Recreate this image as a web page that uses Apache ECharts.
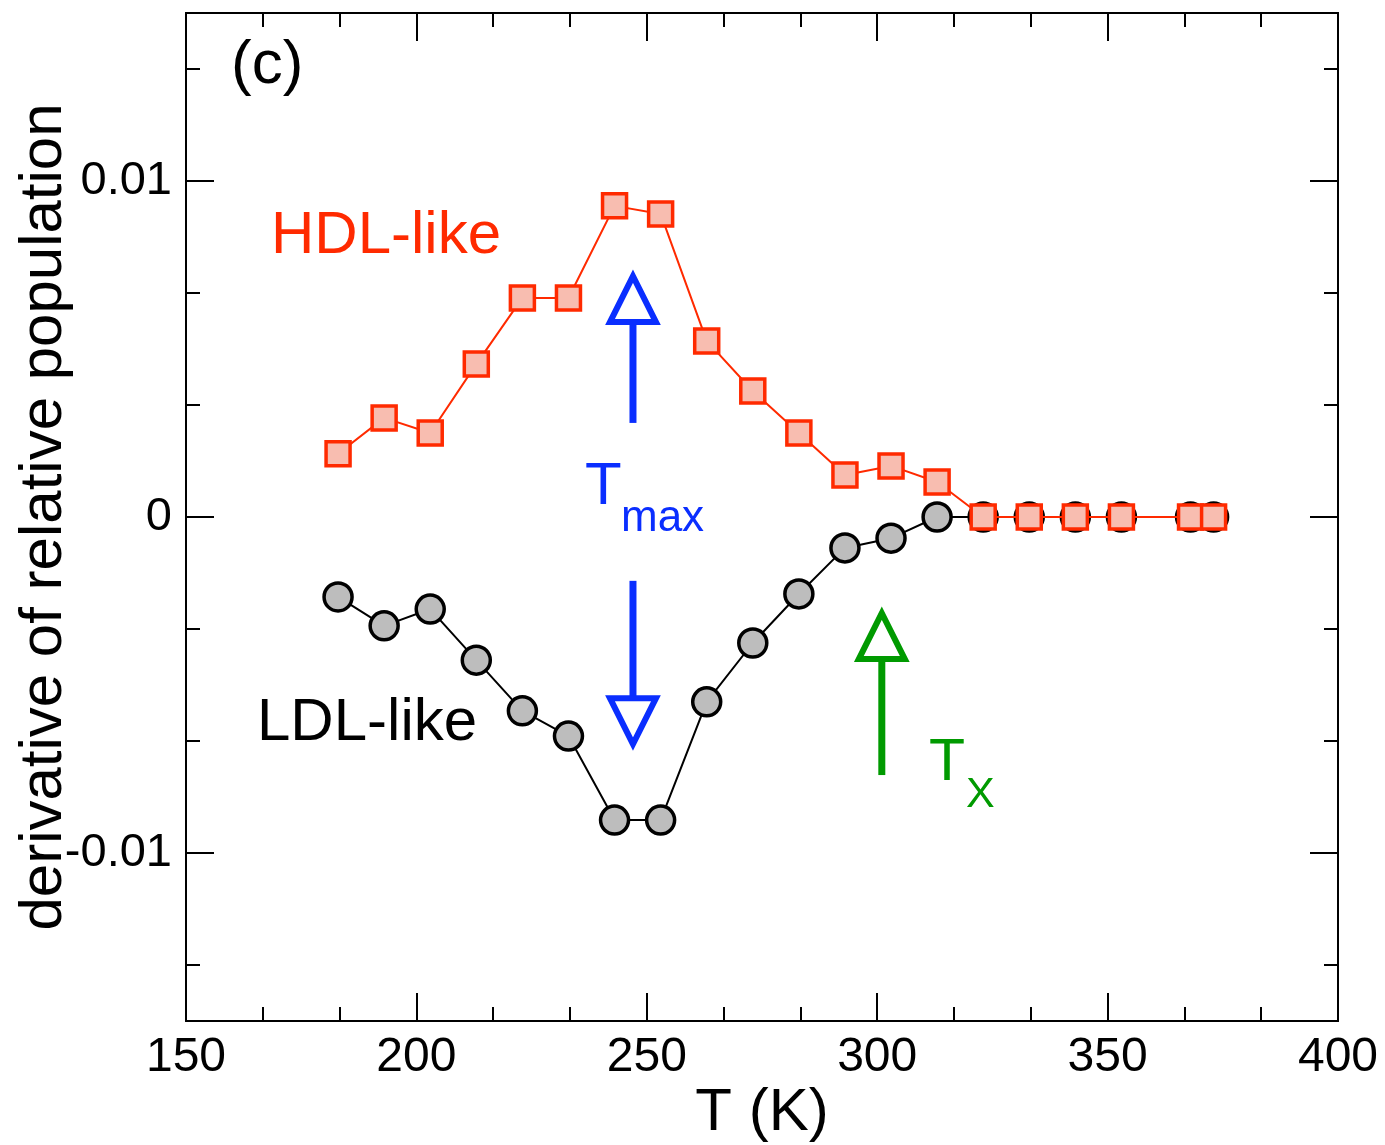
<!DOCTYPE html>
<html>
<head>
<meta charset="utf-8">
<script src="https://cdn.jsdelivr.net/npm/echarts@6/dist/echarts.min.js"></script>
<style>
html,body{margin:0;padding:0;background:#fff;}
#c{width:1385px;height:1145px;}
</style>
</head>
<body>
<div id="c"></div>
<script>
// ---- data ----
const tHDL = [183,193,203,213,223,233,243,253,263,273,283,293,303,313,323,333,343,353,368,373];
const vHDL = [0.00188,0.00295,0.0025,0.00455,0.00652,0.00652,0.00926,0.00902,0.00524,0.00375,0.0025,0.00125,0.00152,0.00104,0,0,0,0,0,0];
const tLDL = [183,193,203,213,223,233,243,253,263,273,283,293,303,313,323,333,343,353,368,373];
const vLDL = [-0.00238,-0.00324,-0.00274,-0.00426,-0.00577,-0.00652,-0.00902,-0.00902,-0.0055,-0.00375,-0.00229,-0.00092,-0.00063,0,0,0,0,0,0,0];
const yMajorTicks = [-0.01, 0, 0.01];
const yMinorTicks = [-0.013333, -0.006667, -0.003333, 0.003333, 0.006667, 0.013333];
// arrows: [x, yFrom, yTip, colorIndex]
const arrows = [
  [247, 0.00280, 0.00717, 0],
  [247, -0.00190, -0.00676, 0],
  [301, -0.00768, -0.00286, 1]
];
const arrowColors = ['#0a2eff', '#009a00'];

const FONT = '"Liberation Sans", Arial, Helvetica, sans-serif';

const chart = echarts.init(document.getElementById('c'), null, { renderer: 'canvas' });

const xBase = {
  type: 'value', min: 150, max: 400, interval: 50,
  axisLine: { show: true, onZero: false, lineStyle: { color: '#000', width: 2 } },
  axisTick: { show: true, inside: true, length: 28, lineStyle: { color: '#000', width: 2 } },
  minorTick: { show: true, splitNumber: 3, length: 14, lineStyle: { color: '#000', width: 2 } },
  splitLine: { show: false }, minorSplitLine: { show: false }
};
const yBase = {
  type: 'value', min: -0.015, max: 0.015,
  axisLine: { show: true, onZero: false, lineStyle: { color: '#000', width: 2 } },
  splitLine: { show: false }
};

const option = {
  animation: false,
  backgroundColor: '#fff',
  grid: { left: 186, right: 47, top: 13, bottom: 124, containLabel: false, outerBoundsMode: 'none' },
  xAxis: [
    Object.assign({}, xBase, {
      position: 'bottom',
      name: 'T (K)', nameLocation: 'middle', nameGap: 62, nameMoveOverlap: false,
      nameTextStyle: { fontFamily: FONT, fontSize: 60, color: '#000' },
      axisLabel: { show: true, margin: 13, fontFamily: FONT, fontSize: 48, color: '#000' }
    }),
    Object.assign({}, xBase, { position: 'top', axisLabel: { show: false } })
  ],
  yAxis: [
    Object.assign({}, yBase, {
      position: 'left',
      name: 'derivative of relative population', nameLocation: 'middle', nameGap: 112, nameMoveOverlap: false,
      nameTextStyle: { fontFamily: FONT, fontSize: 60, color: '#000' },
      axisTick: { show: true, inside: true, length: 28, customValues: yMajorTicks, lineStyle: { color: '#000', width: 2 } },
      axisLabel: { show: true, margin: 14, customValues: yMajorTicks, fontFamily: FONT, fontSize: 47, color: '#000',
        formatter: v => (Math.abs(v) < 1e-12 ? '0' : String(v)) }
    }),
    Object.assign({}, yBase, {
      position: 'left',
      axisTick: { show: true, inside: true, length: 14, customValues: yMinorTicks, lineStyle: { color: '#000', width: 2 } },
      axisLabel: { show: false }
    }),
    Object.assign({}, yBase, {
      position: 'right',
      axisTick: { show: true, inside: true, length: 28, customValues: yMajorTicks, lineStyle: { color: '#000', width: 2 } },
      axisLabel: { show: false }
    }),
    Object.assign({}, yBase, {
      position: 'right',
      axisTick: { show: true, inside: true, length: 14, customValues: yMinorTicks, lineStyle: { color: '#000', width: 2 } },
      axisLabel: { show: false }
    })
  ],
  series: [
    {
      type: 'custom', xAxisIndex: 0, yAxisIndex: 0, z: 3,
      data: arrows,
      renderItem: function (params, api) {
        const x = api.value(0), y0 = api.value(1), y1 = api.value(2);
        const col = arrowColors[api.value(3)];
        const p0 = api.coord([x, y0]);
        const p1 = api.coord([x, y1]);
        const dir = p1[1] < p0[1] ? -1 : 1;
        const headLen = 46, half = 23;
        const baseY = p1[1] - dir * headLen;
        return {
          type: 'group',
          children: [
            { type: 'line', shape: { x1: p0[0], y1: p0[1], x2: p0[0], y2: baseY },
              style: { stroke: col, lineWidth: 7 } },
            { type: 'polygon', shape: { points: [[p1[0], p1[1]], [p1[0] - half, baseY], [p1[0] + half, baseY]] },
              style: { stroke: col, lineWidth: 6, fill: '#fff', lineJoin: 'miter' } }
          ]
        };
      }
    },
    {
      name: 'LDL-like', type: 'line', xAxisIndex: 0, yAxisIndex: 0, z: 4,
      data: tLDL.map((t, i) => [t, vLDL[i]]),
      symbol: 'circle', symbolSize: 28,
      lineStyle: { color: '#000', width: 2 },
      itemStyle: { color: '#bdbdbd', borderColor: '#000', borderWidth: 3.5, opacity: 1 }
    },
    {
      name: 'HDL-like', type: 'line', xAxisIndex: 0, yAxisIndex: 0, z: 5,
      data: tHDL.map((t, i) => [t, vHDL[i]]),
      symbol: 'rect', symbolSize: 24,
      lineStyle: { color: '#ff2a00', width: 2 },
      itemStyle: { color: '#f8bdb0', borderColor: '#ff2a00', borderWidth: 3.5, opacity: 1 }
    }
  ],
  graphic: [
    { type: 'text', z: 10, style: { x: 231, y: 66, text: '(c)', fill: '#000', font: '62px ' + FONT, verticalAlign: 'middle' } },
    { type: 'text', z: 10, style: { x: 271, y: 236, text: 'HDL-like', fill: '#ff2a00', font: '60px ' + FONT, verticalAlign: 'middle' } },
    { type: 'text', z: 10, style: { x: 257, y: 723, text: 'LDL-like', fill: '#000', font: '60px ' + FONT, verticalAlign: 'middle' } },
    { type: 'text', z: 10, style: { x: 585, y: 487, text: 'T', fill: '#0a2eff', font: '60px ' + FONT, verticalAlign: 'middle' } },
    { type: 'text', z: 10, style: { x: 621, y: 519, text: 'max', fill: '#0a2eff', font: '44px ' + FONT, verticalAlign: 'middle' } },
    { type: 'text', z: 10, style: { x: 929, y: 764, text: 'T', fill: '#009a00', font: '59px ' + FONT, verticalAlign: 'middle' } },
    { type: 'text', z: 10, style: { x: 966, y: 795, text: 'X', fill: '#009a00', font: '43px ' + FONT, verticalAlign: 'middle' } }
  ]
};
chart.setOption(option);
</script>
</body>
</html>
